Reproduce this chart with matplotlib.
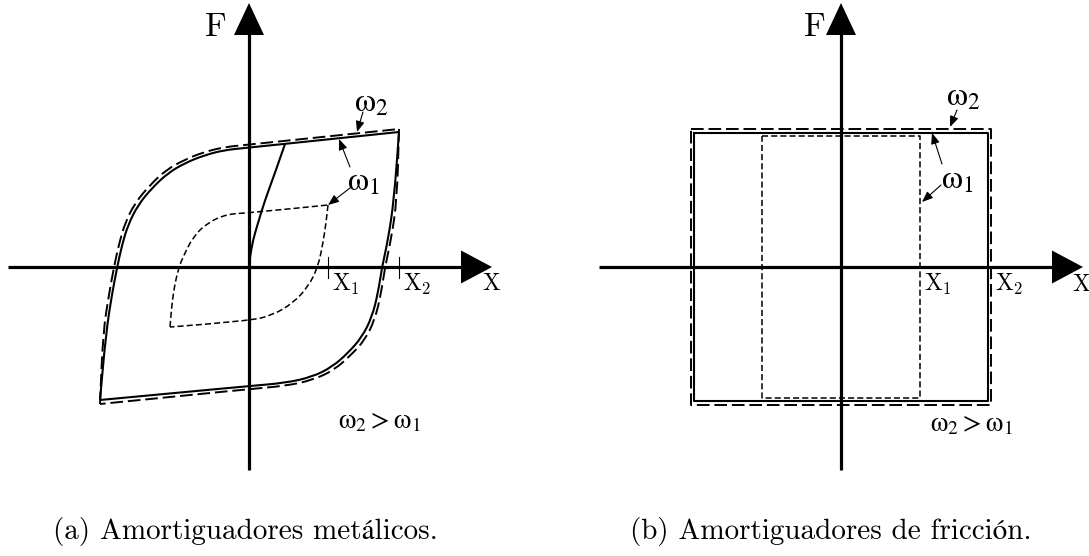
import numpy as np
import matplotlib
matplotlib.use('Agg')
import matplotlib.pyplot as plt
from matplotlib.path import Path
from matplotlib.patches import PathPatch

plt.rcParams['mathtext.fontset'] = 'cm'

# --- (a) metallic damper: hysteresis loops, origin-centred units (1 unit = 1 px) ---
# outer loop at w1 (solid): upper branch BL -> TR, lower branch TR -> BL
w1_up_x = [-149, -143, -137, -132, -127, -121, -111, -97, -81, -64, -44, -24, -4, 150]
w1_up_y = [-133, -66, -27, -1, 22, 42, 62, 79, 94, 104, 112, 117, 119, 135]
w1_lo_x = [150, 145, 139, 133, 129, 123, 113, 99, 83, 63, 36, 0, -149]
w1_lo_y = [135, 67, 27, 0, -26, -50, -70, -86, -100, -110, -116, -119, -133]

# outer loop at w2 (dashed), slightly larger
w2_up_x = [-149, -146, -140, -135, -130, -124, -114, -99, -83, -65, -45, -24, -4, 150]
w2_up_y = [-137, -66, -27, 0, 23, 44, 64, 82, 97, 107, 115, 120, 122, 138]
w2_lo_x = [150, 148, 142, 136, 132, 126, 116, 101, 85, 64, 36, 0, -149]
w2_lo_y = [138, 67, 27, 0, -27, -52, -73, -89, -103, -113, -119, -122, -137]

# small loop (amplitude X1)
in_up_x = [-79, -77, -74, -70, -66, -56, -42, -22, 0, 79]
in_up_y = [-60, -36, -16, 0, 10, 30, 44, 53, 54, 62]
in_lo_x = [79, 77, 74, 69, 59, 44, 24, 0, -79]
in_lo_y = [62, 44, 24, 0, -20, -36, -48, -54, -60]

# initial loading branch
load_x = [0, 1, 4, 9, 16, 26, 36]
load_y = [0, 10, 27, 44, 67, 94, 123]

x1_a, x2_a = 79, 150

# --- (b) friction damper: rectangular loops ---
rect_w1 = (147, 134)    # half width, half height
rect_w2 = (150, 138)
rect_in = (79, 131)
x1_b, x2_b = 79, 150

captions = ['(a) Amortiguadores metálicos.',
            '(b) Amortiguadores de fricción.']

W, H = 1089, 556
fig = plt.figure(figsize=(W / 100, H / 100), dpi=100)
fig.patch.set_facecolor('white')

ax_a = fig.add_axes([0, 0, 545 / W, 1])
ax_a.set_xlim(-249, 296)
ax_a.set_ylim(-289, 267)
ax_b = fig.add_axes([545 / W, 0, 544 / W, 1])
ax_b.set_xlim(-296, 248)
ax_b.set_ylim(-289, 267)

K = 'black'
LW_LOOP = 1.5
OMEGA = dict(math_fontfamily='stix', ha='center', va='center')


def smooth_branch(ax, xs, ys, **kw):
    # quadratic bezier through the midpoints, keeping both end points exact
    pts = np.column_stack([xs, ys]).astype(float)
    verts = [pts[0]]
    codes = [Path.MOVETO]
    if len(pts) > 2:
        verts.append((pts[0] + pts[1]) / 2)
        codes.append(Path.LINETO)
        for i in range(1, len(pts) - 1):
            end = pts[-1] if i == len(pts) - 2 else (pts[i] + pts[i + 1]) / 2
            verts += [pts[i], end]
            codes += [Path.CURVE3, Path.CURVE3]
    else:
        verts.append(pts[1])
        codes.append(Path.LINETO)
    ax.add_patch(PathPatch(Path(verts, codes), fill=False, ec=K,
                           joinstyle='round', capstyle='butt', **kw))


def draw_axes(ax, xl, xr, yb, yt):
    # thick coordinate axes with filled triangular heads
    ax.plot([xl, xr - 28], [0, 0], color=K, lw=2.3, solid_capstyle='butt', zorder=3)
    ax.plot([0, 0], [yb, yt - 28], color=K, lw=2.3, solid_capstyle='butt', zorder=3)
    ax.arrow(xr - 31, 0, 31, 0, width=0, head_width=33, head_length=31,
             length_includes_head=True, fc=K, ec=K, lw=0, zorder=4)
    ax.arrow(0, yt - 32, 0, 32, width=0, head_width=30, head_length=32,
             length_includes_head=True, fc=K, ec=K, lw=0, zorder=4)


def label_arrow(ax, tail, head):
    ax.annotate('', xy=head, xytext=tail,
                arrowprops=dict(arrowstyle='-|>,head_length=0.65,head_width=0.26',
                                lw=0.8, color=K, shrinkA=0, shrinkB=0))


for ax in (ax_a, ax_b):
    ax.axis('off')
    ax.patch.set_alpha(0)

# ---------------- panel (a) ----------------
draw_axes(ax_a, -241, 243, -203, 264)
for xs, ys in ((w1_up_x, w1_up_y), (w1_lo_x, w1_lo_y)):
    smooth_branch(ax_a, xs, ys, lw=LW_LOOP)
for xs, ys in ((w2_up_x, w2_up_y), (w2_lo_x, w2_lo_y)):
    smooth_branch(ax_a, xs, ys, lw=1.4, linestyle=(0, (6.5, 2.5)))
for xs, ys in ((in_up_x, in_up_y), (in_lo_x, in_lo_y)):
    smooth_branch(ax_a, xs, ys, lw=1.1, linestyle=(0, (4, 2)))
smooth_branch(ax_a, load_x, load_y, lw=LW_LOOP)
for xt in (x1_a, x2_a):
    ax_a.plot([xt, xt], [-11, 10], color=K, lw=0.8)

ax_a.text(-34, 241, r'$\mathrm{F}$', fontsize=24, ha='center', va='center')
ax_a.text(243, -16, r'$\mathrm{X}$', fontsize=17, ha='center', va='center')
ax_a.text(x1_a + 4, -17, r'$\mathrm{X}_1$', fontsize=17, ha='left', va='center')
ax_a.text(x2_a + 4, -17, r'$\mathrm{X}_2$', fontsize=17, ha='left', va='center')
ax_a.text(122, 165, r'$\mathrm{\omega}_2$', fontsize=24, **OMEGA)
ax_a.text(114, 86, r'$\mathrm{\omega}_1$', fontsize=24, **OMEGA)
ax_a.text(131, -153, r'$\mathrm{\omega}_2 > \mathrm{\omega}_1$', fontsize=20, **OMEGA)
label_arrow(ax_a, (114, 155), (108, 135))
label_arrow(ax_a, (101, 100), (90, 128))
label_arrow(ax_a, (101, 79), (79, 62))

# ---------------- panel (b) ----------------
draw_axes(ax_b, -242, 242, -203, 264)


def rect(ax, half, **kw):
    hx, hy = half
    ax.plot([-hx, hx, hx, -hx, -hx], [hy, hy, -hy, -hy, hy], color=K, **kw)


rect(ax_b, rect_w1, lw=LW_LOOP)
rect(ax_b, rect_w2, lw=1.4, dashes=(6.5, 2.5))
rect(ax_b, rect_in, lw=1.1, dashes=(4, 2))

ax_b.text(-27, 241, r'$\mathrm{F}$', fontsize=24, ha='center', va='center')
ax_b.text(231, -17, r'$\mathrm{X}$', fontsize=17, ha='left', va='center')
ax_b.text(x1_b + 4, -17, r'$\mathrm{X}_1$', fontsize=17, ha='left', va='center')
ax_b.text(x2_b + 4, -17, r'$\mathrm{X}_2$', fontsize=17, ha='left', va='center')
ax_b.text(122, 171, r'$\mathrm{\omega}_2$', fontsize=24, **OMEGA)
ax_b.text(116, 88, r'$\mathrm{\omega}_1$', fontsize=24, **OMEGA)
ax_b.text(131, -156, r'$\mathrm{\omega}_2 > \mathrm{\omega}_1$', fontsize=20, **OMEGA)
label_arrow(ax_b, (116, 157), (109, 140))
label_arrow(ax_b, (101, 103), (91, 134))
label_arrow(ax_b, (100, 82), (81, 65))

# captions under each panel (Computer Modern text, STIX for the accented letters)
cap_font = dict(family=['cmr10', 'STIXGeneral'], fontsize=21,
                ha='center', va='center')
fig.text(245 / W, 1 - 531 / H, captions[0], **cap_font)
fig.text(831 / W, 1 - 531 / H, captions[1], **cap_font)

fig.savefig('out.png', dpi=100, facecolor='white')
